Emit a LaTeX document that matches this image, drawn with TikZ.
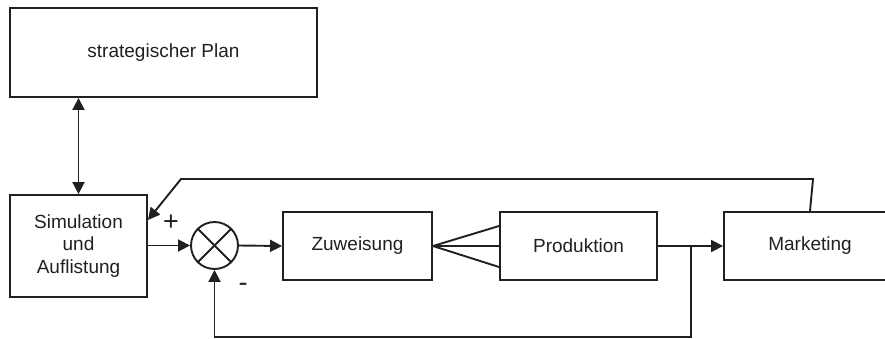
\documentclass[tikz,border=0pt]{standalone}
\usepackage{fontspec}
\setmainfont{Liberation Sans}
\usetikzlibrary{arrows.meta,calc}
\definecolor{ink}{HTML}{231F20}
\tikzset{
  blockbox/.style={draw=ink, line width=1.9pt, rectangle, inner sep=0pt, text=ink, align=center},
  sumnode/.style={draw=ink, line width=1.9pt, circle, inner sep=0pt, minimum size=47pt},
  conn/.style={draw=ink, line width=1.9pt},
  tip/.style={-{Triangle[length=12pt,width=12pt]}},
  signlabel/.style={text=ink, inner sep=0pt, font=\fontsize{27}{27}\selectfont}
}
\begin{document}
\begin{tikzpicture}[x=1pt, y=-1pt, font=\fontsize{19}{22.5}\selectfont]
\useasboundingbox (0,0) rectangle (885,338);
\clip (0,0) rectangle (885,338);

% blocks
\node[blockbox, minimum width=307pt, minimum height=89pt] (plan) at (163.5,52.5) {strategischer Plan};
\node[blockbox, minimum width=137pt, minimum height=102pt] (sim) at (78.5,246) {Simulation\\und\\Auflistung};
\node[sumnode] (sum) at (214.5,245.5) {};
\node[blockbox, minimum width=149pt, minimum height=68pt] (zuw) at (357.5,246) {Zuweisung};
\node[blockbox, minimum width=157pt, minimum height=68pt] (prod) at (578.5,246) {Produktion};
\node[blockbox, minimum width=172pt, minimum height=68pt] (mkt) at (810,246) {Marketing};

% cross inside the summing junction
\draw[conn] (sum.north west) -- (sum.south east);
\draw[conn] (sum.north east) -- (sum.south west);

% sign labels
\node[signlabel] (plus) at (171,223) {+};
\node[signlabel] (minus) at (243,287) {-};

% plan <-> simulation
\draw[conn, {Triangle[length=12pt,width=12pt]}-{Triangle[length=12pt,width=12pt]}]
  (sim.north) -- (sim.north |- plan.south);

% forward path
\draw[conn, tip] (sim.east |- sum.west) -- (sum.west);
\draw[conn, tip] (sum.east) -- (zuw.west);
\draw[conn] (zuw.east) -- ($(prod.west)+(0,-20)$);
\draw[conn] (zuw.east) -- (prod.west);
\draw[conn] (zuw.east) -- ($(prod.west)+(0,21)$);

\coordinate (br) at (691,246);
\coordinate (fbl) at (691,337);
\draw[conn] (prod.east) -- (br);
\draw[conn, tip] (br) -- (mkt.west);

% negative feedback into the junction
\draw[conn, tip] (br) -- (fbl) -| (sum.south);

% feedback from marketing back to simulation
\coordinate (k1) at (813,179);
\coordinate (k2) at (181,179);
\draw[conn, tip, line join=miter] (mkt.north) -- (k1) -- (k2) -- ($(sim.east)+(0,-26)$);
\end{tikzpicture}
\end{document}
